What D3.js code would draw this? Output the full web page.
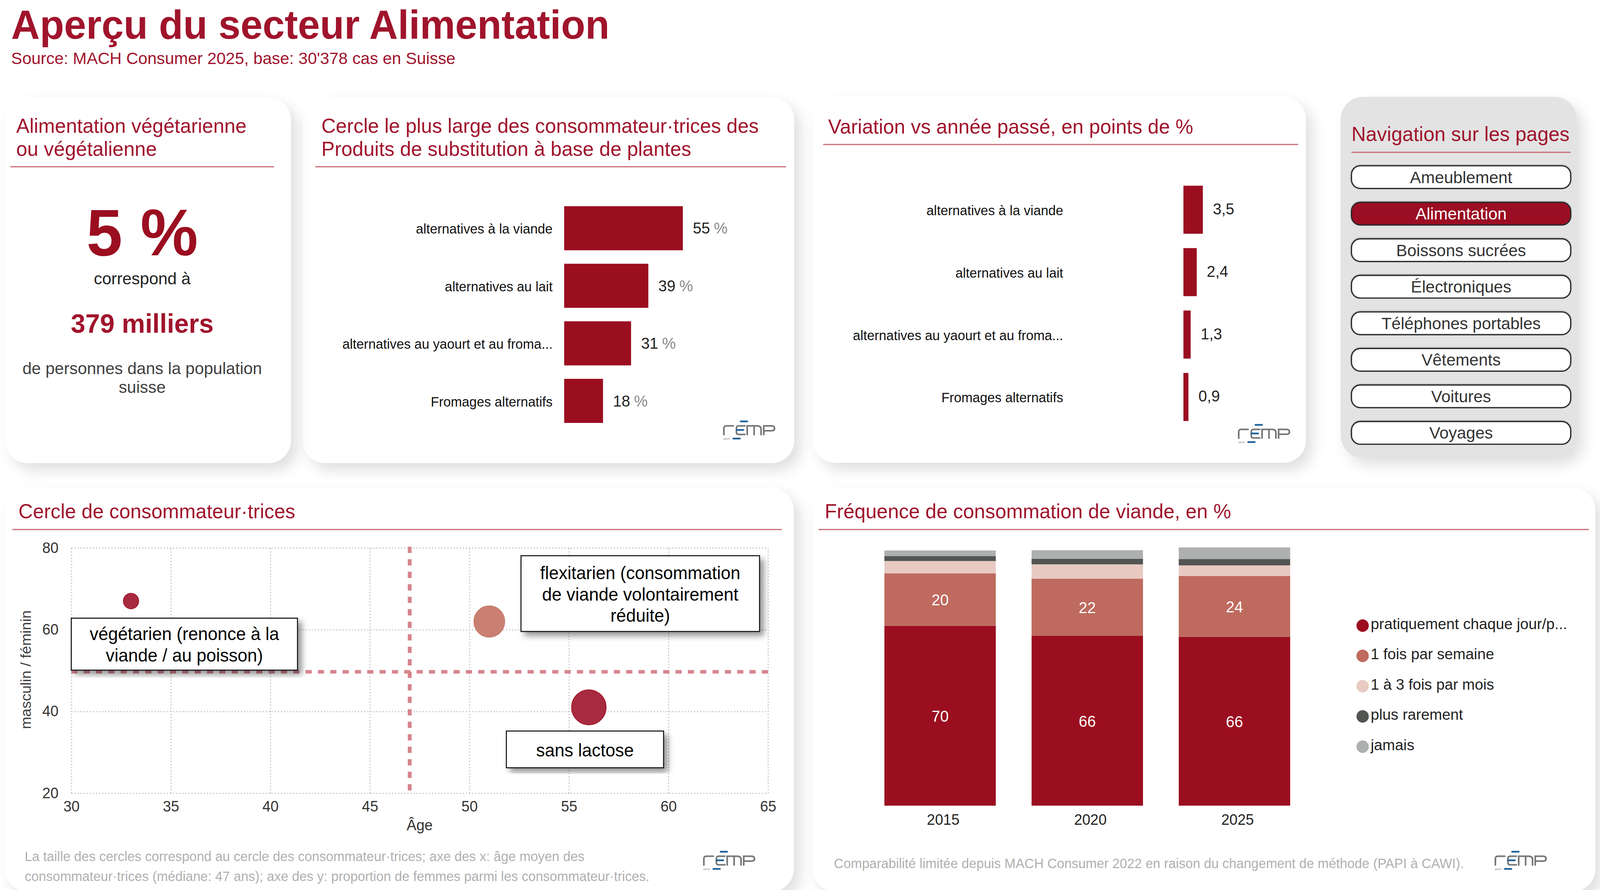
<!DOCTYPE html>
<html lang="fr"><head><meta charset="utf-8">
<script src="https://cdn.jsdelivr.net/npm/d3@7"></script>
<style>
html,body{margin:0;padding:0;background:#fff;overflow:hidden;width:100%;height:100%}
svg{display:block;width:100vw;height:100vh}
text{font-family:"Liberation Sans",Arial,sans-serif}
</style></head><body>
<svg id="c" viewBox="0 0 4152 2279" preserveAspectRatio="none"></svg>
<script>
// ---------- data ----------
const substituteCategories = ["alternatives à la viande","alternatives au lait","alternatives au yaourt et au froma...","Fromages alternatifs"];
const substituteValues = [55,39,31,18];
const variationValues = [3.5,2.4,1.3,0.9];
const pages = ["Ameublement","Alimentation","Boissons sucrées","Électroniques","Téléphones portables","Vêtements","Voitures","Voyages"];
const activePage = "Alimentation";
const dietNames = ["végétarien","flexitarien","sans lactose"];
const dietAge = [33,51,56];
const dietFemale = [67,62,41];
const dietSize = [5,20,25];
const medianAge = 47;
const femaleRef = 49.7;
const ageTicks = [30,35,40,45,50,55,60,65];
const femaleTicks = [20,40,60,80];
const years = ["2015","2020","2025"];
const freqLabels = ["pratiquement chaque jour/p...","1 fois par semaine","1 à 3 fois par mois","plus rarement","jamais"];
const freqDaily = [70,66.1,65.7];
const freqWeekly = [20.4,22.2,23.7];
const freqMonthly = [4.8,5.6,4.1];
const freqRarely = [1.9,2.2,2.5];
const freqNever = [2.2,3.3,4.5];

// ---------- palette ----------
const RED="#9b0e20", TITLE="#a0142c", RULE="#cc6a74";
const freqColors=["#9b0e20","#bf6a5e","#e8cac2","#535553","#aeb0af"];

const svg=d3.select("#c");
const defs=svg.append("defs");
function shadow(id,dx,dy,sd,op){
  const f=defs.append("filter").attr("id",id).attr("x","-15%").attr("y","-15%").attr("width","130%").attr("height","130%");
  f.append("feDropShadow").attr("dx",dx).attr("dy",dy).attr("stdDeviation",sd).attr("flood-color","#000").attr("flood-opacity",op);
}
shadow("boxS",10,10,8,0.42);
shadow("btnS",0,-1,1.5,0.35);
// shadow only, outside the card, so it also falls on the neighbouring card
const cs=defs.append("filter").attr("id","cardS").attr("x","-20%").attr("y","-20%").attr("width","140%").attr("height","140%");
cs.append("feGaussianBlur").attr("in","SourceAlpha").attr("stdDeviation",17).attr("result","b");
cs.append("feOffset").attr("in","b").attr("dx",16).attr("dy",18).attr("result","o");
cs.append("feFlood").attr("flood-color","#000").attr("flood-opacity",0.125).attr("result","f");
cs.append("feComposite").attr("in","f").attr("in2","o").attr("operator","in").attr("result","s");
cs.append("feComposite").attr("in","s").attr("in2","SourceAlpha").attr("operator","out");

function txt(p,x,y,s,size,fill,opt={}){
  return p.append("text").attr("x",x).attr("y",y).attr("font-size",size).attr("fill",fill)
    .attr("text-anchor",opt.anchor||"start").attr("font-weight",opt.weight||"normal").text(s);
}
function rule(x0,x1,y){
  svg.append("line").attr("x1",x0).attr("x2",x1).attr("y1",y).attr("y2",y).attr("stroke",RULE).attr("stroke-width",3);
}
function logo(x,y){
  const g=svg.append("g").attr("transform",`translate(${x},${y})`);
  g.append("path").attr("fill","none").attr("stroke","#757575").attr("stroke-width",4.2).attr("stroke-linecap","round")
   .attr("d","M1.5,24V8Q1.5,1.5 8,1.5H26M56,1.5H40Q34,1.5 34,8V18Q34,23.5 40,23.5H56M62,24V1.5H88Q98,1.5 98,10V24M80,1.5V24M105,24V1.5H125Q133,1.5 133,8Q133,14 125,14H105");
  [[45,62,-10],[35,52,12],[26,43,34]].forEach(b=>g.append("line").attr("x1",b[0]).attr("x2",b[1]).attr("y1",b[2]).attr("y2",b[2])
    .attr("stroke","#1f639b").attr("stroke-width",4.5).attr("stroke-linecap","round"));
  g.append("text").attr("x",0).attr("y",37).attr("font-size",7).attr("fill","#888").text("wemf");
}

// ---------- header ----------
txt(svg,29,99,"Aperçu du secteur Alimentation",103,TITLE,{weight:"bold"});
txt(svg,29,164,"Source: MACH Consumer 2025, base: 30'378 cas en Suisse",43,TITLE);

// ---------- cards ----------
const cardBoxes=[[13,755,249,1186,"#fff"],[785,2061,249,1186,"#fff"],[2109,3389,248,1185,"#fff"],[3479,4092,248,1172,"#e3e3e3"],[13,2060,1249,2283,"#fff"],[2109,4140,1249,2283,"#fff"]];
const cardRect=(sel)=>sel.attr("x",d=>d[0]).attr("y",d=>d[2]).attr("width",d=>d[1]-d[0]).attr("height",d=>d[3]-d[2]).attr("rx",58);
svg.append("g").selectAll("rect").data(cardBoxes).join("rect").call(cardRect).attr("fill",d=>d[4]);
svg.append("g").selectAll("rect").data(cardBoxes).join("rect").call(cardRect).attr("fill","#000").attr("filter","url(#cardS)");

// ---------- card 1: headline ----------
txt(svg,42,340,"Alimentation végétarienne",51.7,TITLE);
txt(svg,42,399,"ou végétalienne",51.7,TITLE);
rule(27,711,427);
txt(svg,369,654,"5 %",168,RED,{anchor:"middle",weight:"bold"});
txt(svg,369,728,"correspond à",43,"#222",{anchor:"middle"});
txt(svg,369,852,"379 milliers",68,TITLE,{anchor:"middle",weight:"bold"});
txt(svg,369,958,"de personnes dans la population",43,"#404040",{anchor:"middle"});
txt(svg,369,1006,"suisse",43,"#404040",{anchor:"middle"});

// ---------- horizontal bars ----------
function hbars(opts){
  const x=d3.scaleLinear().domain(opts.domain).range(opts.xRange);
  const y=d3.scaleBand().domain(substituteCategories).range(opts.yRange).paddingInner(opts.pad);
  const g=svg.append("g");
  const rows=substituteCategories.map((c,i)=>({c,v:opts.values[i]}));
  g.selectAll("rect").data(rows).join("rect").attr("x",x(0)).attr("y",d=>y(d.c))
    .attr("width",d=>x(d.v)-x(0)).attr("height",y.bandwidth()).attr("fill",RED);
  g.selectAll("text.cat").data(rows).join("text").attr("class","cat")
    .attr("x",opts.labelX).attr("y",d=>y(d.c)+y.bandwidth()/2+14).attr("text-anchor","end")
    .attr("font-size",34.7).attr("fill","#111").text(d=>d.c);
  const v=g.selectAll("text.val").data(rows).join("text").attr("class","val")
    .attr("x",d=>x(d.v)+26).attr("y",d=>y(d.c)+y.bandwidth()/2+opts.valDy).attr("font-size",40).attr("fill","#222");
  v.append("tspan").text(d=>opts.fmt(d.v));
  if(opts.unit) v.append("tspan").attr("fill","#8a8a8a").attr("dx",10).text(opts.unit);
}
txt(svg,834,340,"Cercle le plus large des consommateur·trices des",51.7,TITLE);
txt(svg,834,399,"Produits de substitution à base de plantes",51.7,TITLE);
rule(818,2040,427);
hbars({domain:[0,100],xRange:[1464,2024],yRange:[528,1083],pad:0.234,values:substituteValues,labelX:1434,valDy:14,fmt:d3.format("d"),unit:"%"});
logo(1877,1089);

txt(svg,2149,342,"Variation vs année passé, en points de %",51.7,TITLE);
rule(2136,3369,370);
hbars({domain:[0,4],xRange:[3071,3128.6],yRange:[475.5,1078],pad:0.23,values:variationValues,labelX:2759,valDy:12,fmt:v=>String(v).replace(".",",")});
logo(3213,1098);

// ---------- navigation ----------
txt(svg,3507,361,"Navigation sur les pages",51.7,TITLE);
rule(3507,4076,390);
const navY=d3.scaleBand().domain(pages).range([424.5,1137.5]).paddingInner(0.379);
const nav=svg.append("g").selectAll("g").data(pages).join("g");
nav.append("rect").attr("x",3507).attr("y",d=>navY(d)).attr("width",569).attr("height",navY.bandwidth()).attr("rx",23)
  .attr("fill",d=>d===activePage?RED:"#fff").attr("stroke","#2a2a2a").attr("stroke-width",3.2).attr("filter","url(#btnS)");
nav.append("text").attr("x",3791.5).attr("y",d=>navY(d)+navY.bandwidth()/2+15).attr("text-anchor","middle").attr("font-size",43)
  .attr("fill",d=>d===activePage?"#fff":"#333").text(d=>d);

// ---------- scatter ----------
txt(svg,48,1327,"Cercle de consommateur·trices",51.7,TITLE);
rule(32,2029,1356);
const sx=d3.scaleLinear().domain([30,65]).range([185,1993]);
const sy=d3.scaleLinear().domain([20,80]).range([2031,1403]);
const sr=d3.scaleSqrt().domain([0,25]).range([0,45]);
const gridX=svg.append("g").attr("transform","translate(0,2031)")
  .call(d3.axisBottom(sx).tickValues(ageTicks).tickSize(-628).tickPadding(20).tickFormat(d3.format("d")));
const gridY=svg.append("g").attr("transform","translate(185,0)")
  .call(d3.axisLeft(sy).tickValues(femaleTicks).tickSize(-1808).tickPadding(33).tickFormat(d3.format("d")));
[gridX,gridY].forEach(a=>{
  a.select(".domain").remove();
  a.selectAll("line").attr("stroke","#c6c6c6").attr("stroke-width",3).attr("stroke-dasharray","3 5");
  a.selectAll("text").attr("font-size",38).attr("fill","#333").attr("font-family",'"Liberation Sans"');
});
svg.append("line").attr("x1",sx(medianAge)).attr("x2",sx(medianAge)).attr("y1",1400).attr("y2",2031)
  .attr("stroke","#d6848e").attr("stroke-width",10).attr("stroke-dasharray","16 16");
svg.append("line").attr("x1",185).attr("x2",1993).attr("y1",sy(femaleRef)).attr("y2",sy(femaleRef))
  .attr("stroke","#d6848e").attr("stroke-width",9).attr("stroke-dasharray","16 16");
const dietColors=["#a82a3f","#c98072","#a82a3f"];
svg.append("g").selectAll("circle").data(dietNames).join("circle")
  .attr("cx",(d,i)=>sx(dietAge[i])).attr("cy",(d,i)=>sy(dietFemale[i])).attr("r",(d,i)=>sr(dietSize[i]))
  .attr("fill",(d,i)=>dietColors[i]).attr("stroke",(d,i)=>i===1?"#c47565":"#9b0e20").attr("stroke-width",1.5);
function box(x0,x1,y0,y1,lines){
  svg.append("rect").attr("x",x0).attr("y",y0).attr("width",x1-x0).attr("height",y1-y0)
    .attr("fill","#fff").attr("stroke","#111").attr("stroke-width",2.6).attr("filter","url(#boxS)");
  lines.forEach(l=>txt(svg,(x0+x1)/2,l[0],l[1],45.6,"#000",{anchor:"middle"}));
}
box(185,772,1583,1716,[[1639,"végétarien (renonce à la"],[1694,"viande / au poisson)"]]);
box(1352,1971,1423,1617,[[1483,"flexitarien (consommation"],[1538,"de viande volontairement"],[1592,"réduite)"]]);
box(1314,1722,1872,1966,[[1937,"sans lactose"]]);
svg.append("text").attr("transform","translate(80,1715) rotate(-90)").attr("text-anchor","middle").attr("font-size",38).attr("fill","#404040").text("masculin / féminin");
txt(svg,1089,2126,"Âge",38,"#333",{anchor:"middle"});
txt(svg,64,2205,"La taille des cercles correspond au cercle des consommateur·trices; axe des x: âge moyen des",34.5,"#b0b0b0");
txt(svg,64,2256,"consommateur·trices (médiane: 47 ans); axe des y: proportion de femmes parmi les consommateur·trices.",34.5,"#b0b0b0");
logo(1825,2191);

// ---------- stacked bars ----------
txt(svg,2140,1327,"Fréquence de consommation de viande, en %",51.7,TITLE);
rule(2124,4123,1356);
const rows=years.map((y,i)=>({year:y,a:freqDaily[i],b:freqWeekly[i],c:freqMonthly[i],d:freqRarely[i],e:freqNever[i]}));
const keys=["a","b","c","d","e"];
const bx=d3.scaleBand().domain(years).range([2295,3348]).paddingInner(0.243);
const by=d3.scaleLinear().domain([0,100]).range([2063,1405]);
const stacked=d3.stack().keys(keys)(rows);
const layers=svg.append("g").selectAll("g").data(stacked).join("g").attr("fill",(d,i)=>freqColors[i]);
layers.selectAll("rect").data(d=>d).join("rect").attr("x",d=>bx(d.data.year)).attr("width",bx.bandwidth())
  .attr("y",d=>by(d[1])).attr("height",d=>by(d[0])-by(d[1]));
stacked.slice(0,2).forEach(layer=>{
  svg.append("g").selectAll("text").data(layer).join("text")
    .attr("x",d=>bx(d.data.year)+bx.bandwidth()/2).attr("y",d=>(by(d[0])+by(d[1]))/2+15)
    .attr("text-anchor","middle").attr("font-size",40).attr("fill","#fff").text(d=>Math.round(d[1]-d[0]));
});
const xAxis=svg.append("g").attr("transform","translate(8,2063)").call(d3.axisBottom(bx).tickSize(0).tickPadding(22));
xAxis.select(".domain").remove();
xAxis.selectAll("text").attr("font-size",38).attr("fill","#222").attr("font-family",'"Liberation Sans"');
const legY=d3.scalePoint().domain(freqLabels).range([1602,1912]);
const leg=svg.append("g").selectAll("g").data(freqLabels).join("g");
leg.append("circle").attr("cx",3536).attr("cy",d=>legY(d)).attr("r",16).attr("fill",(d,i)=>freqColors[i]);
leg.append("text").attr("x",3557).attr("y",d=>legY(d)+9).attr("font-size",39.2).attr("fill","#222").text(d=>d);
txt(svg,2164,2223,"Comparabilité limitée depuis MACH Consumer 2022 en raison du changement de méthode (PAPI à CAWI).",34.5,"#b0b0b0");
logo(3879,2191);
</script></body></html>
